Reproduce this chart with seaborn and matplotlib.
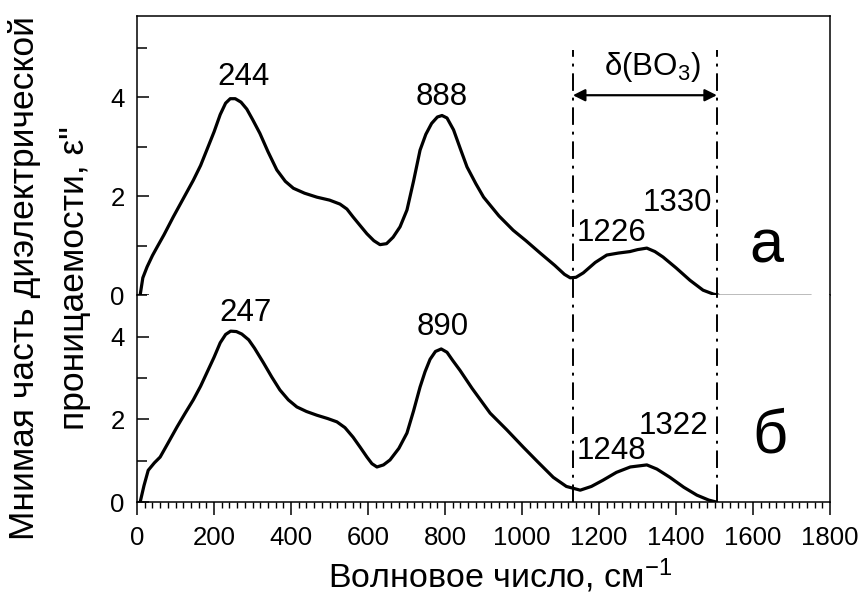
import matplotlib
matplotlib.use("Agg")
import matplotlib.pyplot as plt
from matplotlib.ticker import MultipleLocator
import seaborn as sns
import pandas as pd

# ---- data ----
a_x = [8, 15, 26, 40, 52, 70, 94, 120, 146, 165, 181, 200, 216, 230, 242, 255, 270, 285, 300,
       319, 340, 363, 385, 406, 435, 467, 500, 527, 545, 561, 580, 597, 615, 631, 648, 665,
       683, 701, 718, 735, 750, 765, 780, 792, 805, 822, 840, 857, 880, 900, 940, 977, 1010,
       1047, 1085, 1110, 1125, 1140, 1159, 1190, 1220, 1250, 1280, 1300, 1324, 1345, 1366,
       1400, 1436, 1470, 1497, 1510]
a_y = [0.0, 0.35, 0.57, 0.80, 0.97, 1.22, 1.58, 1.95, 2.32, 2.62, 2.93, 3.30, 3.65, 3.88,
       3.97, 3.97, 3.90, 3.76, 3.55, 3.27, 2.90, 2.53, 2.30, 2.16, 2.06, 1.98, 1.92, 1.84, 1.74,
       1.58, 1.40, 1.24, 1.10, 1.02, 1.04, 1.17, 1.38, 1.72, 2.30, 2.93, 3.25, 3.47, 3.60,
       3.63, 3.58, 3.34, 2.95, 2.59, 2.25, 1.98, 1.60, 1.31, 1.10, 0.85, 0.60, 0.42, 0.35,
       0.36, 0.45, 0.66, 0.81, 0.85, 0.88, 0.92, 0.95, 0.88, 0.77, 0.55, 0.30, 0.10, 0.02, 0.0]
a_tail_x = [1510, 1750]
a_tail_y = [0.0, 0.0]

b_x = [8, 18, 29, 45, 60, 80, 104, 125, 146, 165, 181, 200, 216, 230, 243, 258, 272, 290, 305,
       328, 350, 371, 393, 415, 440, 467, 495, 519, 540, 561, 580, 597, 610, 623, 640, 657,
       680, 701, 718, 735, 748, 761, 775, 790, 805, 820, 839, 870, 917, 960, 1003, 1040, 1081,
       1115, 1151, 1180, 1210, 1245, 1281, 1324, 1350, 1384, 1420, 1454, 1485, 1506]
b_y = [0.0, 0.40, 0.77, 0.95, 1.09, 1.42, 1.82, 2.15, 2.47, 2.80, 3.12, 3.50, 3.85, 4.05,
       4.13, 4.12, 4.06, 3.92, 3.72, 3.37, 3.02, 2.71, 2.47, 2.30, 2.19, 2.10, 2.02, 1.94, 1.80,
       1.57, 1.32, 1.09, 0.93, 0.85, 0.90, 1.02, 1.30, 1.67, 2.20, 2.78, 3.15, 3.45, 3.64,
       3.70, 3.62, 3.42, 3.18, 2.75, 2.15, 1.75, 1.33, 0.98, 0.60, 0.38, 0.29, 0.38, 0.53, 0.72,
       0.85, 0.90, 0.80, 0.60, 0.36, 0.17, 0.05, 0.0]

a_labels = ["244", "888", "1226", "1330"]
a_label_x = [277, 792, 1231, 1403]
a_label_y = [4.40, 4.00, 1.25, 1.86]
b_labels = ["247", "890", "1248", "1322"]
b_label_x = [283, 795, 1231, 1392]
b_label_y = [4.58, 4.24, 1.24, 1.84]

band_lo, band_hi = 1132, 1506

x_ticks = [0, 200, 400, 600, 800, 1000, 1200, 1400, 1600, 1800]
y_ticks = [0, 2, 4]

# ---- style ----
sns.set_style("ticks")
plt.rcParams["font.family"] = ["Liberation Sans", "DejaVu Sans"]
plt.rcParams["mathtext.default"] = "regular"
plt.rcParams["text.color"] = "black"
plt.rcParams["xtick.color"] = "black"
plt.rcParams["ytick.color"] = "black"
plt.rcParams["xtick.labelcolor"] = "black"
plt.rcParams["ytick.labelcolor"] = "black"

fig = plt.figure(figsize=(8.62, 5.95), dpi=100)
ax1 = fig.add_axes([0.159, 0.504, 0.804, 0.469])
ax2 = fig.add_axes([0.159, 0.156, 0.804, 0.348])

sns.lineplot(x=a_x, y=a_y, ax=ax1, color="black", lw=2.3, sort=False, estimator=None)
sns.lineplot(x=a_tail_x, y=a_tail_y, ax=ax1, color="#b0b0b0", lw=1.2, sort=False, estimator=None)
sns.lineplot(x=b_x, y=b_y, ax=ax2, color="black", lw=2.3, sort=False, estimator=None)

ax1.set_xlim(0, 1800)
ax2.set_xlim(0, 1800)
ax1.set_ylim(0, 5.64)
ax2.set_ylim(0, 5.0)

dashdot = (0, (9, 3.5, 1.5, 3.5))
for x in (band_lo, band_hi):
    ax1.plot([x, x], [0, 4.95], color="black", lw=1.4, linestyle=dashdot, clip_on=False)
    ax2.plot([x, x], [0, 5.0], color="black", lw=1.4, linestyle=dashdot, clip_on=False)

ax1.annotate("", xy=(band_hi, 4.04), xytext=(band_lo, 4.04),
             arrowprops=dict(arrowstyle="<|-|>", color="black", lw=1.6,
                             mutation_scale=18, shrinkA=0, shrinkB=0))
ax1.text((band_lo + band_hi) / 2 + 20, 4.62, "δ(BO$_3$)", fontsize=22.5, ha="center", va="center")

for t, x, y in zip(a_labels, a_label_x, a_label_y):
    ax1.text(x, y, t, fontsize=22.5, ha="center", va="center")
for t, x, y in zip(b_labels, b_label_x, b_label_y):
    ax2.text(x, y, t, fontsize=22.5, ha="center", va="center")

ax1.text(1634, 0.97, "а", fontsize=44, ha="center", va="center")
ax2.text(1644, 1.57, "б", fontsize=44, ha="center", va="center")

for ax in (ax1, ax2):
    for s in ax.spines.values():
        s.set_linewidth(1.1)
        s.set_color("black")
    ax.set_yticks(y_ticks)
    ax.yaxis.set_minor_locator(MultipleLocator(1))
    ax.tick_params(axis="y", which="major", direction="in", length=8.5, width=1.1,
                   labelsize=18.5, pad=9)
    ax.tick_params(axis="y", which="minor", direction="in", length=7, width=1.1)
    ax.set_xlabel("")
    ax.set_ylabel("")

ax1.spines["bottom"].set_visible(False)
ax2.spines["top"].set_visible(False)
ax1.tick_params(axis="x", which="both", bottom=False, labelbottom=False)
ax2.set_xticks(x_ticks)
ax2.xaxis.set_minor_locator(MultipleLocator(20))
ax2.tick_params(axis="x", which="major", direction="out", length=9.5, width=1.1,
                labelsize=18.5, pad=8)
ax2.tick_params(axis="x", which="minor", direction="out", length=4, width=1.0)

fig.text(0.029, 0.533, "Мнимая часть диэлектрической", rotation=90, fontsize=25.5,
         ha="center", va="center")
fig.text(0.087, 0.533, "проницаемости, ε\"", rotation=90, fontsize=25.5,
         ha="center", va="center")
fig.text(0.58, 0.012, "Волновое число, см$^{-1}$", fontsize=24.5, ha="center", va="baseline")

fig.savefig("out.png", dpi=100)
